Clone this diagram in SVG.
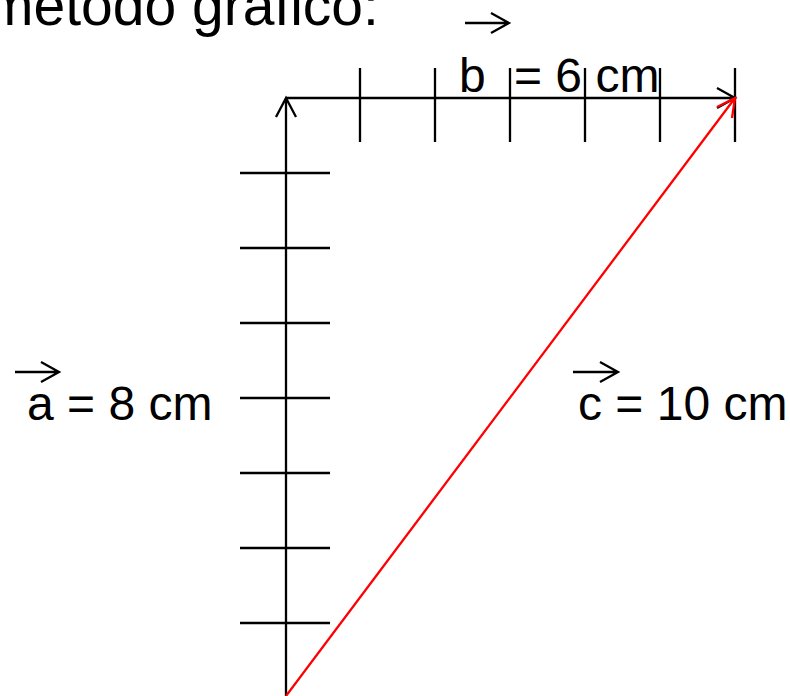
<svg xmlns="http://www.w3.org/2000/svg" width="790" height="696" viewBox="0 0 790 696">
<style>
.t{font-family:"Liberation Sans",Arial,sans-serif;fill:#000}
.k{stroke:#000;stroke-width:2.3;fill:none}
.r{stroke:#f00;stroke-width:2.3;fill:none}
</style>
<rect width="790" height="696" fill="#fff"/>
<text id="title" class="t" x="-14" y="25" font-size="57">metodo grafico:</text>
<g id="ticks" class="k">
<path d="M360 68V142M435 68V142M510 68V142M585 68V142M660 68V142M735 68V142"/>
<path d="M240 173H330M240 248H330M240 323H330M240 398H330M240 473H330M240 548H330M240 623H330"/>
</g>
<g id="connectors">
<g id="vec-a" class="k"><path d="M286 696V98M276 117L286 98L296 117"/></g>
<g id="vec-b" class="k"><path d="M286 98H735M717 88L735 98L717 108"/></g>
<g id="vec-c" class="r"><path d="M286 696L735 98M717 107L735 98L732 118"/></g>
</g>
<g id="label-b">
<path class="k" d="M465 23H509M491 13L509 23L491 33"/>
<text class="t" x="459" y="92" font-size="48">b</text>
<text class="t" x="514" y="92" font-size="48">= 6 cm</text>
</g>
<g id="label-a">
<path class="k" d="M15 372H59M41 362L59 372L41 382"/>
<text class="t" x="27" y="420" font-size="48">a = 8 cm</text>
</g>
<g id="label-c">
<path class="k" d="M573 372H618M600 362L618 372L600 382"/>
<text class="t" x="578" y="420" font-size="48">c = 10 cm</text>
</g>
</svg>
